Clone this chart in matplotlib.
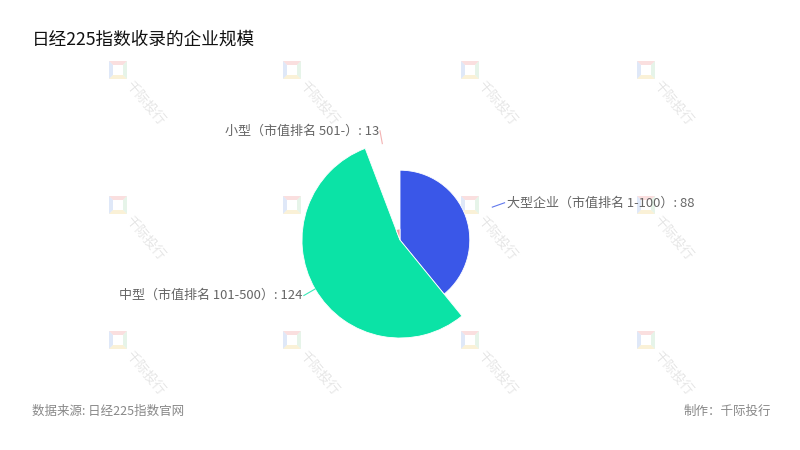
import matplotlib
matplotlib.use("Agg")
import matplotlib.pyplot as plt
from matplotlib.patches import Wedge, Polygon
import numpy as np

plt.rcParams['font.family'] = ['Noto Sans CJK SC', 'DejaVu Sans']

title = "日经225指数收录的企业规模"
categories = ["大型企业（市值排名 1-100）", "中型（市值排名 101-500）", "小型（市值排名 501-）"]
values = [88, 124, 13]
colors = ["#3a57e8", "#0be3a6", "#f0a0a0"]
source_text = "数据来源: 日经225指数官网"
credit_text = "制作：千际投行"
watermark = "千际投行"

W, H = 800, 450
fig = plt.figure(figsize=(8, 4.5), dpi=100)
ax = fig.add_axes([0, 0, 1, 1])
ax.set_xlim(0, W)
ax.set_ylim(H, 0)
ax.axis('off')

# watermarks (behind the chart)
for wx in [118, 292, 470, 646]:
    for wy in [70, 205, 340]:
        s, i = 9, 5
        kw = dict(closed=True, alpha=0.45, lw=0, zorder=0)
        ax.add_patch(Polygon([(wx - s, wy - s), (wx + s, wy - s), (wx + i, wy - i), (wx - i, wy - i)],
                             color="#f4b8b8", **kw))
        ax.add_patch(Polygon([(wx - s, wy - s), (wx - i, wy - i), (wx - i, wy + i), (wx - s, wy + s)],
                             color="#b8cdf0", **kw))
        ax.add_patch(Polygon([(wx - s, wy + s), (wx - i, wy + i), (wx + i, wy + i), (wx + s, wy + s)],
                             color="#f6e0a8", **kw))
        ax.add_patch(Polygon([(wx + s, wy - s), (wx + s, wy + s), (wx + i, wy + i), (wx + i, wy - i)],
                             color="#c8e8d0", **kw))
        ax.text(wx + 27, wy + 33, watermark, rotation=-50, ha='center', va='center',
                fontsize=9.5, color="#e6e6e6", rotation_mode='anchor', zorder=0)

# rose pie
cx, cy = 400, 240
R, r0 = 98, 11
vmin, vmax = min(values), max(values)
total = sum(values)
start = 0.0
for cat, v, c in zip(categories, values, colors):
    span = v / total * 360.0
    rad = r0 + (v - vmin) / (vmax - vmin) * (R - r0)
    t1 = start - 90
    t2 = start + span - 90
    ax.add_patch(Wedge((cx, cy), rad, t1, t2, facecolor=c, edgecolor='white', lw=0.6, zorder=2))
    mid = np.deg2rad(start + span / 2 - 90)
    x1, y1 = cx + R * np.cos(mid), cy + R * np.sin(mid)
    x2, y2 = cx + (R + 13) * np.cos(mid), cy + (R + 13) * np.sin(mid)
    ax.plot([x1, x2], [y1, y2], color=c, lw=0.8, alpha=0.8, zorder=2)
    if np.cos(mid) >= 0:
        ax.text(x2 + 2, y2, f"{cat}: {v}", ha='left', va='center', fontsize=9.4, color="#666666", zorder=3)
    else:
        ax.text(x2 - 1, y2, f"{cat}: {v}", ha='right', va='center', fontsize=9.4, color="#666666", zorder=3)
    start += span

ax.text(32, 40, title, ha='left', va='center', fontsize=12.7, color="#111111", zorder=3)
ax.text(32, 411, source_text, ha='left', va='center', fontsize=9, color="#888888", zorder=3)
ax.text(771, 411, credit_text, ha='right', va='center', fontsize=9, color="#888888", zorder=3)

fig.savefig("out.png", dpi=100, facecolor='white')
